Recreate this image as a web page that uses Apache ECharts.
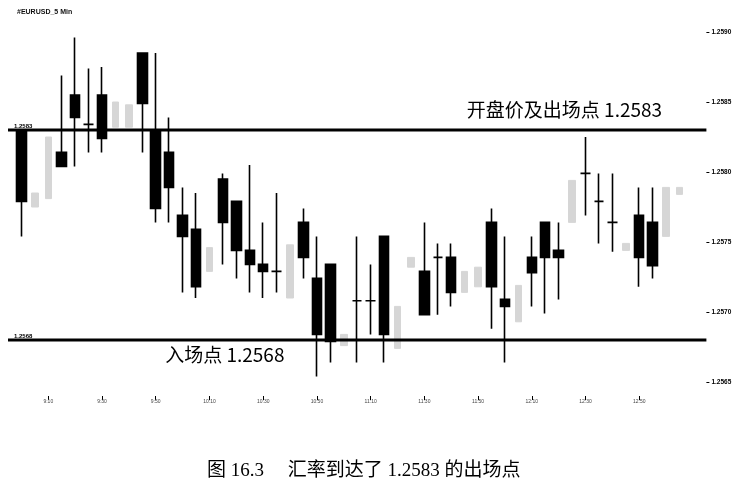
<!DOCTYPE html>
<html>
<head>
<meta charset="utf-8">
<script src="https://cdn.jsdelivr.net/npm/echarts@6/dist/echarts.min.js"></script>
<style>
html,body{margin:0;padding:0;background:#fff;}
#chart{width:751px;height:486px;}
</style>
</head>
<body>
<div id="chart"></div>
<script>
// time slots (5-minute bars)
const categories = ['8:55','9:00','9:05','9:10','9:15','9:20','9:25','9:30','9:35','9:40','9:45','9:50','9:55','10:00','10:05','10:10','10:15','10:20','10:25','10:30','10:35','10:40','10:45','10:50','10:55','11:00','11:05','11:10','11:15','11:20','11:25','11:30','11:35','11:40','11:45','11:50','11:55','12:00','12:05','12:10','12:15','12:20','12:25','12:30','12:35','12:40','12:45','12:50','12:55','13:00','13:05','13:10','13:15'];

// dark (printed black) candles: [open, close, low, high]
const darkBars = [
  null,
  [1.25830,1.25779,1.25754,1.25830],
  null,
  null,
  [1.25814,1.25804,1.25804,1.25869],
  [1.25855,1.25839,1.25804,1.25896],
  [1.25834,1.25834,1.25814,1.25874],
  [1.25855,1.25824,1.25814,1.25875],
  null,
  null,
  [1.25885,1.25849,1.25814,1.25885],
  [1.25830,1.25774,1.25764,1.25885],
  [1.25814,1.25789,1.25764,1.25839],
  [1.25769,1.25754,1.25714,1.25789],
  [1.25759,1.25718,1.25710,1.25785],
  null,
  [1.25795,1.25764,1.25734,1.25799],
  [1.25779,1.25744,1.25724,1.25779],
  [1.25744,1.25734,1.25714,1.25805],
  [1.25734,1.25729,1.25710,1.25764],
  [1.25729,1.25729,1.25714,1.25785],
  null,
  [1.25764,1.25739,1.25724,1.25774],
  [1.25724,1.25684,1.25654,1.25754],
  [1.25734,1.25679,1.25664,1.25734],
  null,
  [1.25708,1.25708,1.25664,1.25754],
  [1.25708,1.25708,1.25684,1.25734],
  [1.25754,1.25684,1.25664,1.25754],
  null,
  null,
  [1.25729,1.25698,1.25698,1.25764],
  [1.25739,1.25739,1.25698,1.25749],
  [1.25739,1.25714,1.25704,1.25749],
  null,
  null,
  [1.25764,1.25718,1.25688,1.25774],
  [1.25709,1.25704,1.25664,1.25754],
  null,
  [1.25739,1.25728,1.25704,1.25754],
  [1.25764,1.25739,1.25699,1.25764],
  [1.25744,1.25739,1.25709,1.25764],
  null,
  [1.25799,1.25799,1.25769,1.25825],
  [1.25779,1.25779,1.25749,1.25799],
  [1.25764,1.25764,1.25743,1.25799],
  null,
  [1.25769,1.25739,1.25718,1.25789],
  [1.25764,1.25733,1.25724,1.25789],
  null,
  null,
  null,
  null
];

// light (faintly printed) candles: [open, close, low, high]
const lightBars = [
  null,
  null,
  [1.25775,1.25785,1.25775,1.25785],
  [1.25781,1.25825,1.25781,1.25825],
  null,null,null,null,
  [1.25832,1.25850,1.25832,1.25850],
  [1.25832,1.25848,1.25832,1.25848],
  null,null,null,null,null,
  [1.25729,1.25746,1.25729,1.25746],
  null,null,null,null,null,
  [1.25710,1.25748,1.25710,1.25748],
  null,null,null,
  [1.25676,1.25684,1.25676,1.25684],
  null,null,null,
  [1.25674,1.25704,1.25674,1.25704],
  [1.25732,1.25739,1.25732,1.25739],
  null,null,null,
  [1.25714,1.25729,1.25714,1.25729],
  [1.25718,1.25732,1.25718,1.25732],
  null,null,
  [1.25693,1.25719,1.25693,1.25719],
  null,null,null,
  [1.25764,1.25794,1.25764,1.25794],
  null,null,null,
  [1.25744,1.25749,1.25744,1.25749],
  null,null,
  [1.25754,1.25789,1.25754,1.25789],
  [1.25784,1.25789,1.25784,1.25789],
  null,
  null
];

const yTicks = [1.2565, 1.2570, 1.2575, 1.2580, 1.2585, 1.2590];
const levels = [1.2583, 1.2568];
const levelTexts = ['开盘价及出场点 1.2583', '入场点 1.2568'];
const levelTags = ['1.2583', '1.2568'];
const levelTextAt = [49, 12];   // category index the big label is attached to
const chartTitle = '#EURUSD_5 Min';
const caption = '图 16.3\u3000 汇率到达了 1.2583 的出场点';

const chart = echarts.init(document.getElementById('chart'));
const tickFn = function (index) { return index >= 3 && index <= 47 && (index - 3) % 4 === 0; };
const toData = arr => arr.map(v => v ? v : '-');

const bigFont = { fontSize: 19, color: '#000', fontFamily: 'Noto Sans CJK SC' };
const tagFont = { fontSize: 6, fontWeight: 'bold', color: '#000', fontFamily: 'Liberation Sans' };

function levelData(k) {
  return categories.map((c, i) => {
    if (i === 0) {
      return { value: levels[k], label: Object.assign({ show: true, formatter: levelTags[k], position: 'top', align: 'left', distance: 1, offset: [6, 0] }, tagFont) };
    }
    if (i === levelTextAt[k]) {
      return { value: levels[k], label: Object.assign(k === 0
        ? { show: true, formatter: levelTexts[k], position: 'top', align: 'right', distance: 11, offset: [-4, 0] }
        : { show: true, formatter: levelTexts[k], position: 'bottom', align: 'left', distance: 5, offset: [-4, 0] }, bigFont) };
    }
    return levels[k];
  });
}

function levelSeries(k) {
  return {
    type: 'line',
    name: 'level' + k,
    data: levelData(k),
    symbol: 'circle',
    symbolSize: 0.01,
    showSymbol: true,
    silent: true,
    z: 4,
    lineStyle: { color: '#000', width: 3, type: 'solid' },
    itemStyle: { color: '#000' },
    label: { show: false }
  };
}

chart.setOption({
  animation: false,
  backgroundColor: '#fff',
  title: [
    { text: chartTitle, left: 12, top: 4,
      textStyle: { fontSize: 7, fontWeight: 'bold', color: '#111', fontFamily: 'Liberation Sans' } },
    { text: caption, left: 202, top: 457,
      textStyle: { fontSize: 19, fontWeight: 'normal', color: '#000', fontFamily: "'Liberation Serif', 'Noto Sans CJK SC'" } }
  ],
  grid: { left: 8, right: 44.6, top: 18, bottom: 90, containLabel: false },
  xAxis: {
    type: 'category',
    data: categories,
    boundaryGap: false,
    axisLine: { show: false },
    axisTick: { show: true, interval: tickFn, length: 4, lineStyle: { color: '#000', width: 1 } },
    axisLabel: { interval: tickFn, fontSize: 5, color: '#444', margin: 3, fontFamily: 'Liberation Sans' },
    splitLine: { show: false }
  },
  yAxis: {
    type: 'value',
    position: 'right',
    min: 1.2564,
    max: 1.2591,
    scale: true,
    axisLine: { show: false },
    axisTick: { show: true, length: 3, customValues: yTicks, lineStyle: { color: '#000', width: 1 } },
    axisLabel: { customValues: yTicks, formatter: v => v.toFixed(4), fontSize: 6.5, fontWeight: 'bold', color: '#000', margin: 5, fontFamily: 'Liberation Sans' },
    splitLine: { show: false }
  },
  series: [
    {
      type: 'candlestick',
      name: 'light',
      data: toData(lightBars),
      barWidth: 7,
      z: 1,
      itemStyle: { color: '#d6d6d6', color0: '#d6d6d6', borderColor: '#d6d6d6', borderColor0: '#d6d6d6', borderColorDoji: '#d6d6d6', borderWidth: 1 }
    },
    {
      type: 'candlestick',
      name: 'dark',
      data: toData(darkBars),
      barWidth: 10,
      z: 3,
      itemStyle: { color: '#000', color0: '#000', borderColor: '#000', borderColor0: '#000', borderColorDoji: '#000', borderWidth: 1.6 }
    },
    levelSeries(0),
    levelSeries(1)
  ]
});
</script>
</body>
</html>
